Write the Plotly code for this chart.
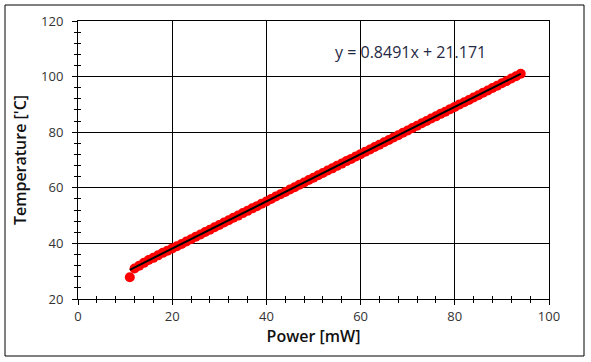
import plotly.graph_objects as go

# Data
power_mw = [11, 12, 13, 14, 15, 16, 17, 18, 19, 20,
            21, 22, 23, 24, 25, 26, 27, 28, 29, 30,
            31, 32, 33, 34, 35, 36, 37, 38, 39, 40,
            41, 42, 43, 44, 45, 46, 47, 48, 49, 50,
            51, 52, 53, 54, 55, 56, 57, 58, 59, 60,
            61, 62, 63, 64, 65, 66, 67, 68, 69, 70,
            71, 72, 73, 74, 75, 76, 77, 78, 79, 80,
            81, 82, 83, 84, 85, 86, 87, 88, 89, 90,
            91, 92, 93, 94]
temperature_c = [27.8, 31.0, 32.0, 33.0, 34.0, 34.8, 35.7, 36.6, 37.4, 38.2,
                 39.0, 39.8, 40.7, 41.5, 42.4, 43.2, 44.1, 44.9, 45.8, 46.6,
                 47.5, 48.3, 49.2, 50.0, 50.9, 51.7, 52.6, 53.4, 54.3, 55.1,
                 56.0, 56.9, 57.7, 58.5, 59.4, 60.2, 61.1, 61.9, 62.8, 63.6,
                 64.5, 65.3, 66.2, 67.0, 67.9, 68.7, 69.6, 70.4, 71.3, 72.1,
                 73.0, 73.8, 74.7, 75.5, 76.4, 77.2, 78.1, 78.9, 79.8, 80.6,
                 81.5, 82.3, 83.2, 84.0, 84.9, 85.7, 86.6, 87.4, 88.3, 89.1,
                 90.0, 90.8, 91.6, 92.5, 93.3, 94.2, 95.0, 95.9, 96.7, 97.6,
                 98.4, 99.3, 100.1, 101.0]

# Linear trendline coefficients (shown on chart)
slope = 0.8491
intercept = 21.171
equation_label = "y = 0.8491x + 21.171"

x_ticks = [0, 20, 40, 60, 80, 100]
y_ticks = [20, 40, 60, 80, 100, 120]

FONT = "Open Sans"
TXT = "#333333"

trend_x = [min(power_mw), max(power_mw)]
trend_y = [slope * v + intercept for v in trend_x]

fig = go.Figure()
fig.add_trace(go.Scatter(
    x=power_mw, y=temperature_c, mode="markers",
    marker=dict(color="#FF0000", size=10, line=dict(width=0)),
    showlegend=False, hoverinfo="skip"))
fig.add_trace(go.Scatter(
    x=trend_x, y=trend_y, mode="lines",
    line=dict(color="#000000", width=2),
    showlegend=False, hoverinfo="skip"))
# invisible trace on overlay axes (for the inner half of cross ticks)
fig.add_trace(go.Scatter(
    x=[power_mw[0]], y=[temperature_c[0]], xaxis="x2", yaxis="y2",
    mode="markers", marker=dict(opacity=0), showlegend=False, hoverinfo="skip"))

axis_common = dict(
    showline=True, linecolor="black", linewidth=1, mirror=True,
    showgrid=True, gridcolor="black", gridwidth=1, zeroline=False,
    ticks="outside", ticklen=5, tickcolor="black", tickwidth=1,
    tickfont=dict(family=FONT, size=13, color=TXT),
    minor=dict(ticks="outside", ticklen=3, tickcolor="black", dtick=4, showgrid=False),
    automargin=False,
)

title_font = dict(family=FONT, size=16, color="#111111", weight=600)

fig.update_layout(
    width=591, height=362,
    margin=dict(l=78, r=42, t=21, b=63),
    paper_bgcolor="white", plot_bgcolor="white",
    font=dict(family=FONT, color=TXT),
    xaxis=dict(
        range=[0, 100], tickvals=x_ticks, ticktext=[str(v) for v in x_ticks],
        title=dict(text="Power [mW]", font=title_font, standoff=4),
        **axis_common),
    yaxis=dict(
        range=[20, 120], tickvals=y_ticks, ticktext=[str(v) for v in y_ticks],
        ticklabelstandoff=6,
        title=dict(text="Temperature ['C]", font=title_font, standoff=10),
        **axis_common),
    xaxis2=dict(overlaying="x", matches="x", range=[0, 100], showgrid=False, showline=False,
                zeroline=False, showticklabels=False, ticks="", anchor="y2", automargin=False,
                minor=dict(ticks="inside", ticklen=3, tickcolor="black", dtick=4)),
    yaxis2=dict(overlaying="y", matches="y", range=[20, 120], showgrid=False, showline=False,
                zeroline=False, showticklabels=False, ticks="", anchor="x2", automargin=False,
                minor=dict(ticks="inside", ticklen=3, tickcolor="black", dtick=4)),
    annotations=[dict(
        x=70.5, y=108.8, xref="x", yref="y", text=equation_label, showarrow=False,
        font=dict(family=FONT, size=16, color="#1f2a44"))],
    shapes=[dict(type="rect", xref="paper", yref="paper",
                 x0=-73 / 471, x1=1 + 35 / 471, y0=-57 / 278, y1=1 + 16 / 278,
                 line=dict(color="black", width=1), fillcolor="rgba(0,0,0,0)", layer="below")],
)

fig.write_html("out.html", config={"displayModeBar": False},
               post_script="document.body.style.margin='0';document.body.style.padding='0';")
